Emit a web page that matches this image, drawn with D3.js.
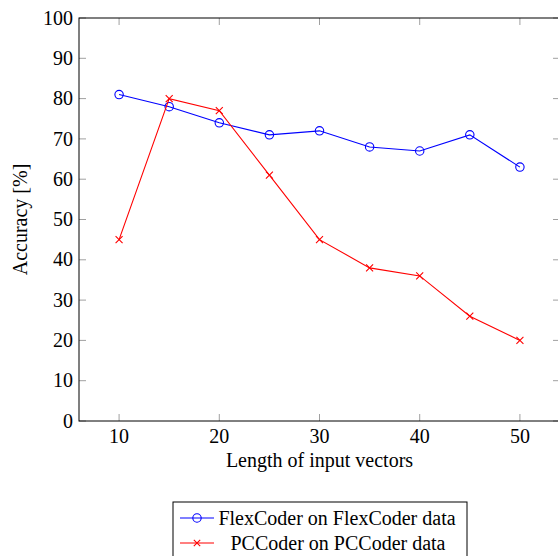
<!DOCTYPE html>
<html><head><meta charset="utf-8">
<script src="https://cdn.jsdelivr.net/npm/d3@7"></script>
<style>body{margin:0;background:#fff}svg{display:block}</style>
</head><body><svg id="c" width="558" height="556" font-family="'Liberation Serif', 'Times New Roman', Times, serif"></svg>
<script>
const xValues = [10,15,20,25,30,35,40,45,50];
const flexCoder = [81,78,74,71,72,68,67,71,63];
const pcCoder = [45,80,77,61,45,38,36,26,20];
const xTicks = [10,20,30,40,50];
const yTicks = [0,10,20,30,40,50,60,70,80,90,100];
const seriesNames = ["FlexCoder on FlexCoder data","PCCoder on PCCoder data"];

const svg = d3.select("#c");
const FF = "'Liberation Serif', 'Times New Roman', Times, serif";
const L=79, R=560, T=18, B=421;
const x = d3.scaleLinear().domain([6,54]).range([L,R]);
const y = d3.scaleLinear().domain([0,100]).range([B,T]);
const fs = 20;

const tickCol = "#a0a0a0", tl = 7;
const g = svg.append("g");
xTicks.forEach(v=>{
  g.append("line").attr("x1",x(v)).attr("x2",x(v)).attr("y1",B).attr("y2",B-tl).attr("stroke",tickCol);
  g.append("line").attr("x1",x(v)).attr("x2",x(v)).attr("y1",T).attr("y2",T+tl).attr("stroke",tickCol);
  g.append("text").attr("font-family",FF).attr("x",x(v)).attr("y",B+22).attr("text-anchor","middle").attr("font-size",fs).text(v);
});
yTicks.forEach(v=>{
  g.append("line").attr("x1",L).attr("x2",L+tl).attr("y1",y(v)).attr("y2",y(v)).attr("stroke",tickCol);
  g.append("line").attr("x1",R).attr("x2",R-tl).attr("y1",y(v)).attr("y2",y(v)).attr("stroke",tickCol);
  g.append("text").attr("font-family",FF).attr("x",L-6).attr("y",y(v)).attr("dy","0.33em").attr("text-anchor","end").attr("font-size",fs).text(v);
});
svg.append("rect").attr("x",L).attr("y",T).attr("width",R-L).attr("height",B-T).attr("fill","none").attr("stroke","#000").attr("stroke-width",1);

svg.append("text").attr("font-family",FF).attr("x",x(30)).attr("y",467).attr("text-anchor","middle").attr("font-size",fs).text("Length of input vectors");
svg.append("text").attr("font-family",FF).attr("transform",`translate(27,${(T+B)/2}) rotate(-90)`).attr("text-anchor","middle").attr("font-size",fs).text("Accuracy [%]");

const line = d3.line().x((d,i)=>x(xValues[i])).y(d=>y(d));
function cross(sel,cx,cy,s,col){
  sel.append("path").attr("d",`M${cx-s},${cy-s}L${cx+s},${cy+s}M${cx-s},${cy+s}L${cx+s},${cy-s}`).attr("stroke",col).attr("stroke-width",1.1);
}
svg.append("path").datum(flexCoder).attr("d",line).attr("fill","none").attr("stroke","#0000ff").attr("stroke-width",1.1);
flexCoder.forEach((v,i)=>svg.append("circle").attr("cx",x(xValues[i])).attr("cy",y(v)).attr("r",4.2).attr("fill","none").attr("stroke","#0000ff").attr("stroke-width",1.1));
svg.append("path").datum(pcCoder).attr("d",line).attr("fill","none").attr("stroke","#ff0000").attr("stroke-width",1.1);
pcCoder.forEach((v,i)=>cross(svg,x(xValues[i]),y(v),3.5,"#ff0000"));

const lg = svg.append("g");
lg.append("rect").attr("x",173).attr("y",502).attr("width",294).attr("height",70).attr("fill","#fff").attr("stroke","#000").attr("stroke-width",1);
lg.append("line").attr("x1",180).attr("x2",214).attr("y1",518).attr("y2",518).attr("stroke","#0000ff").attr("stroke-width",1.1);
lg.append("circle").attr("cx",197).attr("cy",518).attr("r",4.2).attr("fill","none").attr("stroke","#0000ff").attr("stroke-width",1.1);
lg.append("line").attr("x1",180).attr("x2",214).attr("y1",543).attr("y2",543).attr("stroke","#ff0000").attr("stroke-width",1.1);
cross(lg,197,543,3.2,"#ff0000");
lg.append("text").attr("font-family",FF).attr("x",337).attr("y",518).attr("dy","0.33em").attr("text-anchor","middle").attr("font-size",fs).text(seriesNames[0]);
lg.append("text").attr("font-family",FF).attr("x",338).attr("y",543).attr("dy","0.33em").attr("text-anchor","middle").attr("font-size",fs).text(seriesNames[1]);
</script></body></html>
